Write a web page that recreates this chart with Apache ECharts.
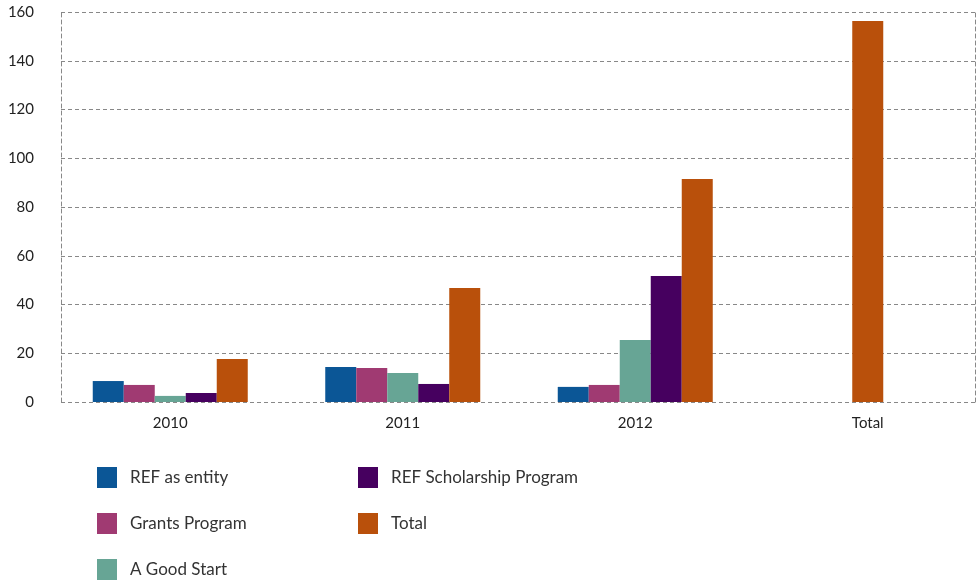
<!DOCTYPE html>
<html>
<head>
<meta charset="utf-8">
<script src="https://cdn.jsdelivr.net/npm/echarts@6/dist/echarts.min.js"></script>
<style>html,body{margin:0;padding:0;background:#fff;}#c{width:976px;height:582px;}</style>
</head>
<body>
<div id="c"></div>
<script>
const categories = ['2010', '2011', '2012', 'Total'];
const yTicks = [0, 20, 40, 60, 80, 100, 120, 140, 160];
const refEntity = [8.6, 14.4, 6.2, null];
const grantsProgram = [7.0, 13.9, 7.0, null];
const goodStart = [2.5, 11.9, 25.4, null];
const scholarship = [3.7, 7.4, 51.7, null];
const totalByYear = [17.6, 46.8, 91.5, null];
const grandTotal = [null, null, null, 156.3];

const colors = {
  'REF as entity': '#0B5696',
  'Grants Program': '#A03A72',
  'A Good Start': '#67A595',
  'REF Scholarship Program': '#46005F',
  'Total': '#B9500B'
};
const font = 'Lato, "Open Sans", sans-serif';
const dash = { color: '#888', type: [4, 3], width: 1 };

const chart = echarts.init(document.getElementById('c'), null, { renderer: 'canvas' });
function bar(name, data, xi, yi) {
  return {
    name: name, type: 'bar', data: data, xAxisIndex: xi, yAxisIndex: yi,
    itemStyle: { color: colors[name] }, barWidth: 31, barGap: '0%',
    emphasis: { disabled: true }
  };
}
const legendBase = {
  orient: 'vertical', top: 467, padding: 0, height: 120,
  itemWidth: 20, itemHeight: 21, itemGap: 25,
  icon: 'rect', selectedMode: false,
  textStyle: { color: '#333', fontSize: 17, fontFamily: font, padding: [0, 0, 0, 8] }
};
chart.setOption({
  animation: false,
  grid: [
    { left: 61, right: 1, top: 12, bottom: 180, outerBoundsMode: 'none', containLabel: false },
    { left: 54, width: 930, top: 12, bottom: 180, outerBoundsMode: 'none', containLabel: false }
  ],
  xAxis: [
    { type: 'category', gridIndex: 0, data: categories, show: false },
    { type: 'category', gridIndex: 1, data: categories,
      axisLine: { show: false }, axisTick: { show: false },
      axisLabel: { color: '#222', fontSize: 15, fontFamily: font, margin: 14 } },
    { type: 'category', gridIndex: 1, data: categories, show: false }
  ],
  yAxis: [
    { type: 'value', gridIndex: 0, min: 0, max: 160, interval: 20, position: 'left',
      axisLine: { show: true, lineStyle: dash }, axisTick: { show: false },
      axisLabel: { color: '#222', fontSize: 15, fontFamily: font, margin: 27,
        customValues: yTicks },
      splitLine: { show: true, lineStyle: dash } },
    { type: 'value', gridIndex: 1, min: 0, max: 160, interval: 20, show: false },
    { type: 'value', gridIndex: 0, min: 0, max: 160, interval: 20, position: 'right',
      axisLine: { show: true, lineStyle: dash }, axisTick: { show: false },
      axisLabel: { show: false }, splitLine: { show: false } }
  ],
  legend: [
    Object.assign({}, legendBase, { left: 97, data: ['REF as entity', 'Grants Program', 'A Good Start'] }),
    Object.assign({}, legendBase, { left: 358, data: ['REF Scholarship Program', 'Total'] })
  ],
  series: [
    bar('REF as entity', refEntity, 1, 1),
    bar('Grants Program', grantsProgram, 1, 1),
    bar('A Good Start', goodStart, 1, 1),
    bar('REF Scholarship Program', scholarship, 1, 1),
    bar('Total', totalByYear, 1, 1),
    bar('Total', grandTotal, 2, 1)
  ]
});
</script>
</body>
</html>
